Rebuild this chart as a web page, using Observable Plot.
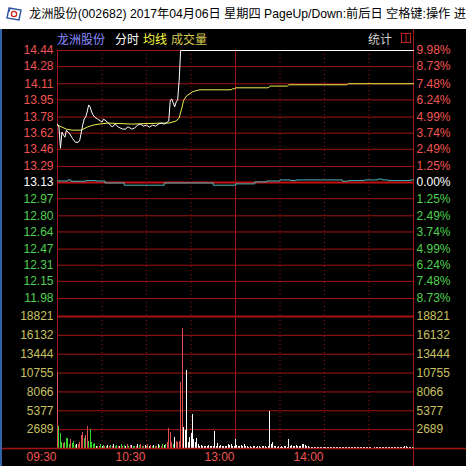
<!DOCTYPE html>
<html><head><meta charset="utf-8">
<script src="https://cdn.jsdelivr.net/npm/d3@7"></script>
<script src="https://cdn.jsdelivr.net/npm/@observablehq/plot@0.6"></script>
<style>
html,body{margin:0;padding:0;background:#000;}
#wrap{position:relative;width:466px;height:466px;background:#000;overflow:hidden;font-family:"Noto Sans CJK SC","Noto Sans",sans-serif;}
#titlebar{position:absolute;left:0;top:0;width:466px;height:29px;background:#fff;white-space:nowrap;overflow:hidden;z-index:3;}
#titletext{position:absolute;left:29px;top:5px;font-size:12.2px;color:#000;line-height:18px;font-family:"Liberation Sans","Noto Sans CJK SC",sans-serif;}
#icon{position:absolute;left:6px;top:6px;}
.hdr{position:absolute;top:31px;font-size:12px;line-height:16px;white-space:nowrap;z-index:3;}
#frameL{position:absolute;left:0;top:29px;width:1.5px;height:437px;background:#3463a8;z-index:3;}
</style></head>
<body>
<div id="wrap">
  <div id="titlebar">
    <svg id="icon" width="17" height="16" viewBox="0 0 17 16"><path d="M3 2 L15 4 L13 14 L1 12 Z" fill="#fff" stroke="#3050a0" stroke-width="1.4"/><circle cx="8" cy="8" r="2.6" fill="none" stroke="#d02020" stroke-width="1.3"/><line x1="4" y1="3" x2="3" y2="6" stroke="#3050a0"/></svg>
    <span id="titletext"></span>
  </div>
  <div id="frameL"></div>
</div>
<script>
// ---------- data ----------
const titleText = "龙洲股份(002682) 2017年04月06日 星期四 PageUp/Down:前后日 空格键:操作 进";
const stockName = "龙洲股份";
const headerItems = ["分时", "均线", "成交量"];
const statLabel = "统计";
const preClose = 13.13;

const priceTicks = [14.44, 14.28, 14.11, 13.95, 13.78, 13.62, 13.46, 13.29, 13.13, 12.97, 12.80, 12.64, 12.47, 12.31, 12.15, 11.98];
const pctLabels = ["9.98%", "8.73%", "7.48%", "6.24%", "4.99%", "3.74%", "2.49%", "1.25%", "0.00%", "1.25%", "2.49%", "3.74%", "4.99%", "6.24%", "7.48%", "8.73%"];
const volTicks = [18821, 16132, 13444, 10755, 8066, 5377, 2689];
const timeTicks = [0, 60, 120, 180];
const timeLabels = ["09:30", "10:30", "13:00", "14:00"];
const dottedTimes = [30, 60, 90, 150, 180, 210];

// minute index (0..240) and price of the 分时 line
const priceMin = [0, 1, 2, 3, 4, 5, 6, 7, 8, 10, 12, 14, 15, 17, 18, 19, 20, 21, 22, 23, 24, 25, 27, 30, 31, 32, 35, 37, 38, 39, 41, 44, 46, 47, 48, 50, 52, 54, 56, 58, 60, 62, 64, 66, 68, 70, 72, 74, 75, 76, 77, 78, 79, 80, 81, 82, 83, 240];
const priceVal = [13.71, 13.68, 13.47, 13.63, 13.60, 13.58, 13.65, 13.63, 13.62, 13.57, 13.53, 13.53, 13.55, 13.70, 13.76, 13.78, 13.83, 13.90, 13.88, 13.83, 13.80, 13.78, 13.76, 13.73, 13.76, 13.75, 13.71, 13.68, 13.70, 13.71, 13.68, 13.66, 13.66, 13.68, 13.68, 13.66, 13.67, 13.70, 13.71, 13.69, 13.70, 13.68, 13.70, 13.69, 13.71, 13.72, 13.71, 13.73, 13.74, 13.94, 13.96, 13.92, 13.88, 13.93, 13.95, 14.14, 14.44, 14.44];

// 均线
const avgMin = [0, 3, 6, 10, 16, 20, 24, 28, 34, 50, 70, 75, 80, 82, 84, 85, 87, 91, 93, 96, 117, 118, 119.5, 120, 142, 143.5, 155, 156, 195, 196, 240];
const avgVal = [13.70, 13.68, 13.66, 13.65, 13.65, 13.68, 13.70, 13.71, 13.72, 13.71, 13.72, 13.72, 13.74, 13.77, 13.88, 13.945, 13.99, 14.03, 14.04, 14.05, 14.05, 14.06, 14.06, 14.07, 14.07, 14.087, 14.087, 14.10, 14.10, 14.11, 14.11];

// reference index line, % change
const idxMin = [0, 7, 9, 19, 26, 32, 45, 72, 105, 120, 133, 141, 150, 157, 161, 192, 196, 207, 216, 219, 223, 238, 240];
const idxPct = [0.12, 0.2, 0.1, 0.15, 0.12, -0.03, -0.2, -0.03, -0.2, -0.1, 0.05, 0.12, 0.2, 0.15, 0.2, 0.1, 0.15, 0.2, 0.26, 0.2, 0.15, 0.2, 0.2];

// per-minute volume (hands), minutes 0..240
const volumes = [
  10900,3150,2160,900,700,900,1460,1460,500,1300,
  700,950,400,550,500,900,1880,2300,1400,1900,
  3150,1000,2690,800,600,650,300,350,250,500,
  300,400,250,350,450,300,400,250,550,300,
  450,350,300,500,250,400,350,550,300,450,
  400,250,350,300,500,400,550,300,250,450,
  350,500,300,400,250,450,350,300,550,400,
  300,500,450,600,900,2790,2300,800,500,1600,
  1000,800,1000,9380,17170,3020,2550,11180,890,1600,
  2070,4910,1300,900,1460,500,300,400,250,350,
  300,250,400,350,300,250,2400,300,755,250,
  400,300,350,300,250,560,400,560,300,350,
  1300,400,300,250,400,300,560,250,300,200,
  250,200,300,250,200,300,250,200,250,300,
  250,200,300,5230,560,890,300,250,200,250,
  200,250,200,300,250,200,1300,350,400,300,
  350,400,300,250,300,560,560,400,300,250,
  180,150,200,130,170,160,190,140,170,150,
  160,190,140,180,150,170,130,200,160,150,
  170,140,190,160,150,180,130,170,160,190,
  150,170,140,180,160,150,190,130,170,160,
  180,150,0,0,160,170,140,190,150,160,
  170,150,180,140,160,190,150,170,140,160,
  180,150,170,160,300,280,150,170,160,140,
  200
];
// direction of each minute: u = up, d = down, e = unchanged
const volDir = ("uddduddddu" + "dddeuuuudu" + "udddddedud" + "edudeudued" + "duedudeudu" +
  "edduedudue" + "dueudedued" + "udeduuuude" + "uuuuueeeee" + "e".repeat(150) + "d").split("");

// ---------- styling ----------
const GRID = "#a31515";
const RED = "#f05555";
const GREEN = "#4fd14f";
const VOLTXT = "#c8c060";
const FONT = "'Liberation Sans', Arial, sans-serif";
const dirColor = {u: "#e05050", d: "#33d633", e: "#ffffff"};
const tickColor = v => v > preClose + 1e-9 ? RED : (v < preClose - 1e-9 ? GREEN : "#ffffff");

const priceData = priceMin.map((m, i) => ({m, p: priceVal[i]}));
const avgData = avgMin.map((m, i) => ({m, p: avgVal[i]}));
const idxData = idxMin.map((m, i) => ({m, p: preClose * (1 + idxPct[i] / 100)}));
const volData = volumes.map((v, i) => ({m: i, v, c: dirColor[volDir[i]]}));

document.getElementById("titletext").textContent = titleText;
const wrap = document.getElementById("wrap");

function hdr(text, left, color) {
  const s = document.createElement("span");
  s.className = "hdr"; s.textContent = text; s.style.left = left + "px"; s.style.color = color;
  wrap.appendChild(s);
}
hdr(stockName, 57, "#8c8cff");
hdr(headerItems[0], 115, "#ffffff");
hdr(headerItems[1], 143, "#ffff40");
hdr(headerItems[2], 171, "#d8c850");
hdr(statLabel, 368, "#d0d0d0");
const box = document.createElementNS("http://www.w3.org/2000/svg", "svg");
box.setAttribute("width", "12"); box.setAttribute("height", "12");
box.style.cssText = "position:absolute;left:400px;top:32px;z-index:3";
box.innerHTML = '<rect x="1.5" y="1.5" width="9" height="9" fill="none" stroke="#c02020"/><line x1="6" y1="1.5" x2="6" y2="10.5" stroke="#c02020"/>';
wrap.appendChild(box);

const common = {
  width: 466, height: 466,
  marginLeft: 57, marginRight: 53,
  x: {domain: [0, 240], axis: null},
  color: {type: "identity"},
  style: {background: "transparent", overflow: "visible", fontFamily: FONT, fontSize: "12px",
          position: "absolute", left: "0px", top: "0px"}
};

const pricePlot = Plot.plot({
  ...common,
  marginTop: 50, marginBottom: 168,
  y: {domain: [11.98, 14.44], axis: null},
  marks: [
    Plot.ruleY(priceTicks, {stroke: GRID, strokeWidth: 1}),
    Plot.ruleY([preClose], {stroke: "#c41010", strokeWidth: 2}),
    Plot.ruleX(dottedTimes, {stroke: GRID, strokeDasharray: "1,3", insetBottom: -18}),
    Plot.ruleX([0, 120], {stroke: GRID, insetBottom: -18}),
    Plot.ruleX([240], {stroke: GRID, insetTop: -21, insetBottom: -18}),
    Plot.line(idxData, {x: "m", y: "p", stroke: "#4cb8b8", strokeWidth: 1, curve: "step-after"}),
    Plot.line(avgData, {x: "m", y: "p", stroke: "#f0f050", strokeWidth: 1}),
    Plot.line(priceData, {x: "m", y: "p", stroke: "#ffffff", strokeWidth: 1}),
    Plot.text(priceTicks, {x: 0, y: d => d, text: d => d.toFixed(2), dx: -4, textAnchor: "end", fill: d => tickColor(d), fontSize: 12}),
    Plot.text(priceTicks, {x: 240, y: d => d, text: (d, i) => pctLabels[i], dx: 3, textAnchor: "start", fill: d => tickColor(d), fontSize: 12})
  ]
});

const volPlot = Plot.plot({
  ...common,
  marginTop: 316, marginBottom: 18,
  y: {domain: [0, 18821], axis: null},
  marks: [
    Plot.ruleY(volTicks, {stroke: GRID, strokeWidth: 1}),
    Plot.ruleY([volTicks[0]], {stroke: GRID, strokeWidth: 2}),
    Plot.ruleX(dottedTimes, {stroke: GRID, strokeDasharray: "1,3"}),
    Plot.ruleX([0, 120], {stroke: GRID}),
    Plot.ruleX([240], {stroke: GRID, insetBottom: -18}),
    Plot.ruleX(volData, {x: "m", y: "v", stroke: "c", strokeWidth: 1, shapeRendering: "crispEdges"}),
    Plot.ruleY([0], {stroke: GRID, strokeWidth: 1.3, insetLeft: -57, insetRight: -53}),
    Plot.text(volTicks, {x: 0, y: d => d, text: d => String(d), dx: -4, textAnchor: "end", fill: VOLTXT, fontSize: 12}),
    Plot.text(volTicks, {x: 240, y: d => d, text: d => String(d), dx: 3, textAnchor: "start", fill: VOLTXT, fontSize: 12}),
    Plot.text(timeTicks, {x: d => d, y: 0, text: (d, i) => timeLabels[i], dx: -1, dy: 9, textAnchor: "end", fill: RED, fontSize: 12})
  ]
});

pricePlot.style.position = "absolute"; pricePlot.style.left = "0px"; pricePlot.style.top = "0px";
volPlot.style.position = "absolute"; volPlot.style.left = "0px"; volPlot.style.top = "0px";
wrap.appendChild(pricePlot);
wrap.appendChild(volPlot);
</script>
</body></html>
